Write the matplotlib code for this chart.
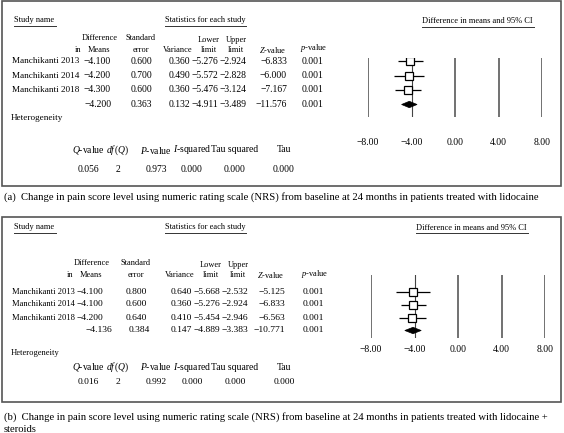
import matplotlib
matplotlib.use('Agg')
import matplotlib.pyplot as plt
from matplotlib.patches import Rectangle, Polygon

plt.rcParams['font.family'] = ['Liberation Serif', 'DejaVu Serif']
plt.rcParams['mathtext.fontset'] = 'custom'
plt.rcParams['mathtext.rm'] = 'Liberation Serif'
plt.rcParams['mathtext.it'] = 'Liberation Serif:italic'

# data
studies = ['Manchikanti 2013', 'Manchikanti 2014', 'Manchikanti 2018']

a_diff = [-4.100, -4.200, -4.300]
a_se = [0.600, 0.700, 0.600]
a_var = [0.360, 0.490, 0.360]
a_lo = [-5.276, -5.572, -5.476]
a_hi = [-2.924, -2.828, -3.124]
a_z = [-6.833, -6.000, -7.167]
a_p = [0.001, 0.001, 0.001]
a_pool = [-4.200, 0.363, 0.132, -4.911, -3.489, -11.576, 0.001]
a_het = [0.056, 2, 0.973, 0.000, 0.000, 0.000]

b_diff = [-4.100, -4.100, -4.200]
b_se = [0.800, 0.600, 0.640]
b_var = [0.640, 0.360, 0.410]
b_lo = [-5.668, -5.276, -5.454]
b_hi = [-2.532, -2.924, -2.946]
b_z = [-5.125, -6.833, -6.563]
b_p = [0.001, 0.001, 0.001]
b_pool = [-4.136, 0.384, 0.147, -4.889, -3.383, -10.771, 0.001]
b_het = [0.016, 2, 0.992, 0.000, 0.000, 0.000]

ticks = [-8, -4, 0, 4, 8]
het_labels = ['$Q$-value', '$df\\,(Q)$', '$P$-value', '$I$-squared', 'Tau squared', 'Tau']

caption_a = '(a)  Change in pain score level using numeric rating scale (NRS) from baseline at 24 months in patients treated with lidocaine'
caption_b1 = '(b)  Change in pain score level using numeric rating scale (NRS) from baseline at 24 months in patients treated with lidocaine +'
caption_b2 = 'steroids'

W, H = 564, 433
fig = plt.figure(figsize=(W / 100, H / 100), dpi=100)
bg = fig.add_axes([0, 0, 1, 1])
bg.set_xlim(0, W)
bg.set_ylim(H, 0)
bg.axis('off')

HS = 6.0


def fmt(v):
    return ('%.3f' % v).replace('-', '\u2212')


def underline_text(x, y, s, x0, x1):
    bg.text(x, y, s, fontsize=HS, ha='left', va='center')
    bg.plot([x0, x1], [y + 5.5, y + 5.5], color='#333333', lw=0.7)


def panel(top, bottom, rows_y, pool_y, het_y, lay, diff, se, var, lo, hi, z, p, pool, het):
    bg.add_patch(Rectangle((2, top), 559, bottom - top, fill=False, ec='#555555', lw=1.2))
    ty = top + 19 + lay['dt']
    underline_text(14, ty, 'Study name', 14, 56)
    underline_text(165, ty, 'Statistics for each study', 165, 246)
    underline_text(lay['ci_x'], ty + 0.5, 'Difference in means and 95% CI', lay['ci_x'], lay['ci_x'] + 112)

    h1, h2 = lay['h1'], lay['h2']
    cx = lay['cols']
    bg.text(cx[0] - 11, h1, 'Difference', fontsize=HS, ha='center', va='center')
    bg.text(cx[0] - 33, h2, 'in', fontsize=HS, ha='center', va='center')
    bg.text(cx[0] - 1, h2, 'Means', fontsize=HS, ha='right', va='center')
    bg.text(cx[1] - 11, h1, 'Standard', fontsize=HS, ha='center', va='center')
    bg.text(cx[1] - 11, h2, 'error', fontsize=HS, ha='center', va='center')
    bg.text(cx[2] - 12, h2, 'Variance', fontsize=HS, ha='center', va='center')
    bg.text(cx[3] - 9, h1 + 2, 'Lower', fontsize=HS, ha='center', va='center')
    bg.text(cx[3] - 9, h2, 'limit', fontsize=HS, ha='center', va='center')
    bg.text(cx[4] - 10, h1 + 2, 'Upper', fontsize=HS, ha='center', va='center')
    bg.text(cx[4] - 10, h2, 'limit', fontsize=HS, ha='center', va='center')
    bg.text(cx[5] - 14, h2, '$Z$-value', fontsize=HS, ha='center', va='center')
    bg.text(cx[6] - 9, h2 - 1.5, '$p$-value', fontsize=HS, ha='center', va='center')

    NS, VS = lay['name_fs'], lay['num_fs']
    for i, name in enumerate(studies):
        y = rows_y[i]
        bg.text(12, y, name, fontsize=NS, ha='left', va='center')
        vals = [diff[i], se[i], var[i], lo[i], hi[i], z[i], p[i]]
        for xr, v in zip(cx, vals):
            bg.text(xr, y, fmt(v), fontsize=VS, ha='right', va='center')
    for xr, dx, v in zip(cx, lay['pool_dx'], pool):
        bg.text(xr + dx, pool_y, fmt(v), fontsize=VS, ha='right', va='center')

    bg.text(11, lay['het_title'], 'Heterogeneity', fontsize=NS, ha='left', va='center')
    hx = [88, 118, 156, 192, 235, 284]
    for xx, s in zip(hx, het_labels):
        bg.text(xx, het_y, s, fontsize=6.9, ha='center', va='center')
    for k, (xx, v) in enumerate(zip(hx, het)):
        s = str(v) if k == 1 else '%.3f' % v
        bg.text(xx, het_y + lay['het_dy'], s, fontsize=VS, ha='center', va='center')

    # forest plot
    fx0, fx1 = lay['fx']
    ly0, ly1 = lay['ly']
    step = (rows_y[-1] - rows_y[0]) / 2.0
    ytop = (ly0 - rows_y[0]) / step
    ybot = (ly1 - rows_y[0]) / step
    ax = fig.add_axes([fx0 / W, 1 - ly1 / H, (fx1 - fx0) / W, (ly1 - ly0) / H])
    ax.set_xlim(-8, 8)
    ax.set_ylim(ybot, ytop)
    for s in ax.spines.values():
        s.set_visible(False)
    ax.patch.set_alpha(0)
    for t in ticks:
        if t == -4:
            ax.axvline(t, color='#444444', lw=0.8, zorder=1)
        else:
            ax.axvline(t, color='#666666', lw=1.3, zorder=1)
    idx = list(range(len(studies)))
    ax.hlines(idx, lo, hi, color='black', lw=0.9, zorder=2)
    ax.plot(diff, idx, 's', ms=5.2, mfc='white', mec='black', mew=0.9, zorder=3)
    py = (pool_y - rows_y[0]) / step
    dh = 3.2 / step
    ax.add_patch(Polygon([(pool[3], py), (pool[0], py - dh), (pool[4], py), (pool[0], py + dh)],
                         closed=True, fc='black', ec='black', lw=0.5, zorder=3))
    ax.set_yticks([])
    ax.set_xticks(ticks)
    ax.set_xticklabels(['%.2f' % t if t >= 0 else '\u2212%.2f' % (-t) for t in ticks])
    ax.tick_params(axis='x', length=0, pad=lay['tick_pad'], labelsize=6.9)


panel(1, 186, [61, 75.5, 90], 104.5, 150,
      dict(dt=0.5, ci_x=422, h1=38, h2=50, cols=[111, 152, 190, 218, 246, 287, 323],
           pool_dx=[1, 0, 0, 0, 0, 0, 0], name_fs=6.6, num_fs=6.9,
           het_title=118, het_dy=19, fx=(368, 542), ly=(58, 117), tick_pad=15),
      a_diff, a_se, a_var, a_lo, a_hi, a_z, a_p, a_pool, a_het)

panel(217, 402, [291.5, 304.5, 317.5], 330.5, 367,
      dict(dt=-9, ci_x=416, h1=263, h2=275, cols=[103, 147, 192, 220, 248, 285, 324],
           pool_dx=[9, 3, 0, 0, 0, 0, 0], name_fs=6.1, num_fs=6.8,
           het_title=353, het_dy=15, fx=(371, 545), ly=(275, 338), tick_pad=5),
      b_diff, b_se, b_var, b_lo, b_hi, b_z, b_p, b_pool, b_het)

bg.text(4, 197, caption_a, fontsize=7.7, ha='left', va='center')
bg.text(4, 417, caption_b1, fontsize=7.7, ha='left', va='center')
bg.text(4, 429.5, caption_b2, fontsize=7.7, ha='left', va='center')

fig.savefig('out.png', dpi=100)
